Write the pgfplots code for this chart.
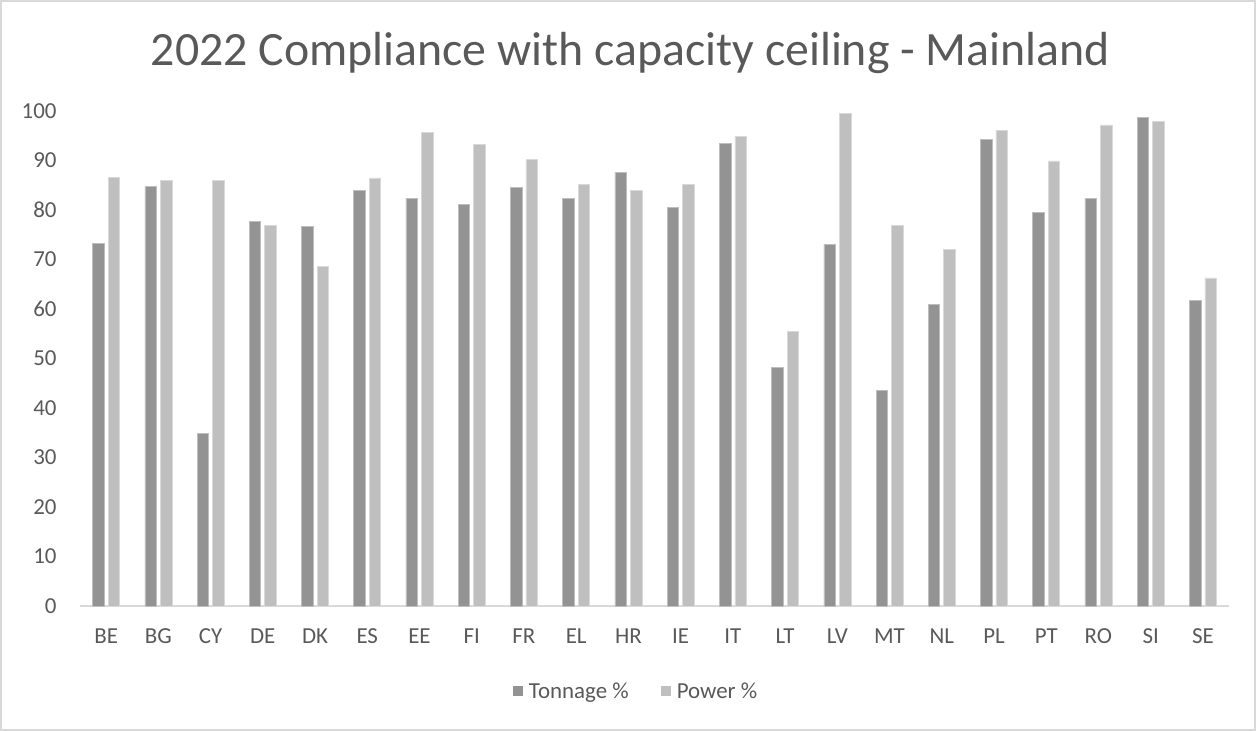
\documentclass[border=0pt]{standalone}
\usepackage{fontspec}
\setmainfont{Carlito}
\usepackage{pgfplots}
\pgfplotsset{compat=1.18}
\definecolor{tonc}{HTML}{939393}
\definecolor{powc}{HTML}{BFBFBF}
\definecolor{txt}{HTML}{595959}
\definecolor{frm}{HTML}{D9D9D9}

\begin{document}
\begin{tikzpicture}
\begin{axis}[
  at={(0,0)}, anchor=south west,
  scale only axis,
  width=1149bp, height=495bp,
  ybar=4bp, bar width=11.5bp,
  xmin=-0.5, xmax=21.5,
  ymin=0, ymax=100,
  ytick={0,10,...,100},
  xtick=data,
  xticklabels={BE,BG,CY,DE,DK,ES,EE,FI,FR,EL,HR,IE,IT,LT,LV,MT,NL,PL,PT,RO,SI,SE},
  axis x line*=bottom, axis y line*=left,
  y axis line style={draw=none},
  x axis line style={frm, line width=1.3bp},
  tick style={draw=none},
  tick label style={font=\fontsize{23}{27}\selectfont, text=txt},
  /pgf/number format/assume math mode=true,
  yticklabel style={anchor=east, xshift=-20bp},
  xticklabel style={anchor=center, yshift=-26bp},
  title={2022 Compliance with capacity ceiling - Mainland},
  title style={font=\fontsize{48}{56}\selectfont, text=txt, at={(axis description cs:0.5,1)}, anchor=base, yshift=40bp, xshift=-24bp},
  legend columns=2,
  legend style={draw=none, at={(axis description cs:0.484,0)}, anchor=center, yshift=-85bp,
    font=\fontsize{23}{27}\selectfont, text=txt,
    /tikz/every odd column/.append style={column sep=4bp},
    /tikz/every even column/.append style={column sep=30bp}},
  legend image code/.code={\path[#1,draw=none] (0bp,-5bp) rectangle (10bp,5bp);},
  clip=false,
]
\addplot[fill=tonc, draw=white!40!tonc, line width=0.6bp] coordinates {
 (0,73.3) (1,84.7) (2,34.9) (3,77.7) (4,76.7) (5,84.0) (6,82.4) (7,81.1)
 (8,84.5) (9,82.4) (10,87.6) (11,80.5) (12,93.5) (13,48.2) (14,73.1) (15,43.6)
 (16,60.9) (17,94.3) (18,79.5) (19,82.4) (20,98.7) (21,61.7)};
\addplot[fill=powc, draw=white!40!powc, line width=0.6bp] coordinates {
 (0,86.6) (1,86.0) (2,86.0) (3,76.9) (4,68.6) (5,86.5) (6,95.6) (7,93.3)
 (8,90.2) (9,85.2) (10,84.0) (11,85.2) (12,94.8) (13,55.4) (14,99.5) (15,76.9)
 (16,72.0) (17,96.1) (18,89.9) (19,97.2) (20,97.9) (21,66.3)};
\legend{Tonnage \%, Power \%}
\end{axis}
\draw[frm, line width=1.2bp] (-79bp,-124bp) rectangle (1175bp,605bp);
\pgfresetboundingbox
\useasboundingbox (-80bp,-125bp) rectangle (1176bp,606bp);
\end{tikzpicture}
\end{document}
